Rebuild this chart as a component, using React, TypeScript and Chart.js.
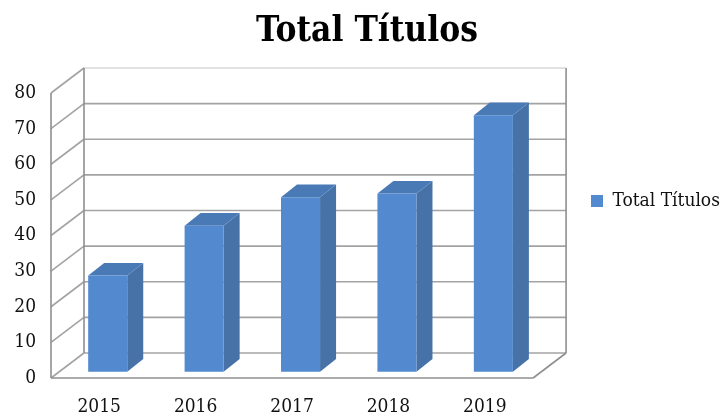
import React, { useEffect, useRef } from "react";
import { Chart, registerables } from "chart.js";

Chart.register(...registerables);

const categories = ["2015", "2016", "2017", "2018", "2019"];
const seriesName = "Total Títulos";
const values = [27, 41, 49, 50, 72];
const FONT = "'DejaVu Serif Condensed', 'Liberation Serif', serif";

const wallDx = 33, wallDy = -25;
const barDx = 8.5, barDy = -6.3;
const depthDx = 16, depthDy = -12.6;
const lineColor = "#a3a3a3";

const wallsPlugin = {
  id: "walls",
  beforeDatasetsDraw(chart: any) {
    const { ctx, chartArea: a, scales } = chart;
    const y = scales.y;
    ctx.save();
    ctx.lineWidth = 1.6;
    ctx.strokeStyle = lineColor;
    const seg = (x1: number, y1: number, x2: number, y2: number) => {
      ctx.beginPath();
      ctx.moveTo(x1, y1);
      ctx.lineTo(x2, y2);
      ctx.stroke();
    };
    y.ticks.forEach((t: any) => {
      const py = y.getPixelForValue(t.value);
      const isTop = t.value === y.max;
      ctx.strokeStyle = isTop ? "#d9d9d9" : lineColor;
      seg(a.left + wallDx, py + wallDy, a.right + wallDx, py + wallDy);
      ctx.strokeStyle = lineColor;
      seg(a.left, py, a.left + wallDx, py + wallDy);
    });
    ctx.strokeStyle = "#8f8f8f";
    seg(a.left, a.top, a.left, a.bottom);
    seg(a.left + wallDx, a.top + wallDy, a.left + wallDx, a.bottom + wallDy);
    seg(a.right + wallDx, a.top + wallDy, a.right + wallDx, a.bottom + wallDy);
    seg(a.left, a.bottom, a.right, a.bottom);
    seg(a.right, a.bottom, a.right + wallDx, a.bottom + wallDy);
    ctx.restore();
  },
  beforeDatasetDraw(chart: any, args: any) {
    const { ctx } = chart;
    ctx.save();
    ctx.translate(barDx, barDy);
    args.meta.data.forEach((b: any) => {
      const l = b.x - b.width / 2, r = b.x + b.width / 2;
      ctx.fillStyle = "#4672a8";
      ctx.beginPath();
      ctx.moveTo(r, b.y);
      ctx.lineTo(r + depthDx, b.y + depthDy);
      ctx.lineTo(r + depthDx, b.base + depthDy);
      ctx.lineTo(r, b.base);
      ctx.closePath();
      ctx.fill();
      ctx.fillStyle = "#4a7ab6";
      ctx.beginPath();
      ctx.moveTo(l, b.y);
      ctx.lineTo(l + depthDx, b.y + depthDy);
      ctx.lineTo(r + depthDx, b.y + depthDy);
      ctx.lineTo(r, b.y);
      ctx.closePath();
      ctx.fill();
    });
  },
  afterDatasetDraw(chart: any) {
    chart.ctx.restore();
  },
  afterLayout(chart: any) {
    const legend = chart.legend;
    const h = legend.bottom - legend.top;
    const w = legend.right - legend.left;
    legend.top = 201 - h / 2;
    legend.bottom = legend.top + h;
    legend.left = 585;
    legend.right = 585 + w;
    chart.titleBlock.left = 0;
    chart.titleBlock.right = 734;
  },
};

export default function App() {
  const ref = useRef<HTMLCanvasElement>(null);
  useEffect(() => {
    const chart = new Chart(ref.current as HTMLCanvasElement, {
      type: "bar",
      data: {
        labels: categories,
        datasets: [
          {
            label: seriesName,
            data: values,
            backgroundColor: "#5389cf",
            hoverBackgroundColor: "#5389cf",
            borderWidth: 0,
            categoryPercentage: 1,
            barPercentage: 0.405,
            clip: false,
          } as any,
        ],
      },
      options: {
        responsive: false,
        animation: false,
        layout: { padding: { left: 0, right: 47, top: 0, bottom: 0 } },
        plugins: {
          tooltip: { enabled: false },
          title: {
            display: true,
            text: seriesName,
            color: "#000000",
            font: { family: FONT, size: 35, weight: "bold" },
            padding: { top: 11, bottom: 40 },
          },
          legend: {
            display: true,
            position: "right",
            labels: {
              boxWidth: 12,
              boxHeight: 12,
              color: "#111111",
              padding: 6,
              font: { family: FONT, size: 19 },
            },
          },
        },
        scales: {
          x: {
            grid: { display: false },
            border: { display: false },
            ticks: { color: "#111111", font: { family: FONT, size: 19 }, padding: 10, maxRotation: 0 },
            afterFit(s: any) { s.height = 39; },
          },
          y: {
            min: 0,
            max: 80,
            grid: { display: false },
            border: { display: false },
            ticks: { stepSize: 10, color: "#111111", font: { family: FONT, size: 19 }, padding: 7 },
            afterFit(s: any) { s.width = 51; },
          },
        },
      },
      plugins: [wallsPlugin],
    } as any);
    return () => chart.destroy();
  }, []);
  return (
    <canvas
      ref={ref}
      width={725}
      height={417}
      style={{ position: "fixed", left: 0, top: 0, display: "block", background: "#fff" }}
    />
  );
}
